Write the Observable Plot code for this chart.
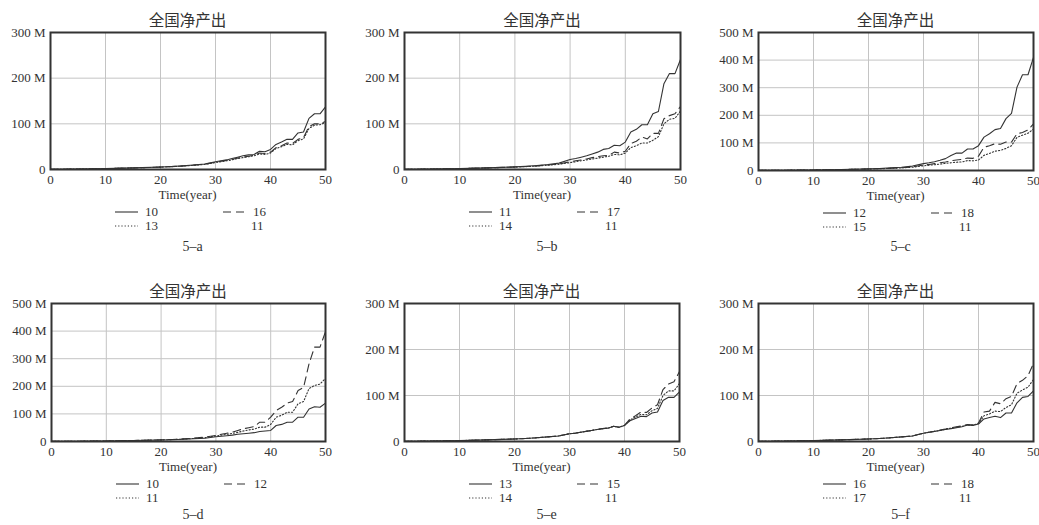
<!DOCTYPE html>
<html><head><meta charset="utf-8">
<script src="https://cdn.jsdelivr.net/npm/d3@7"></script>
<script src="https://cdn.jsdelivr.net/npm/@observablehq/plot@0.6"></script>
<style>
html,body{margin:0;padding:0;background:#fff;overflow:hidden;width:1039px;height:525px;}
#root{position:relative;width:1039px;height:525px;overflow:hidden;}
.abs{position:absolute;white-space:nowrap;}
.title{font-family:"Noto Sans CJK SC",sans-serif;font-size:15.5px;color:#333;transform:translate(-50%,-50%);}
.serif{font-family:"Liberation Serif","Times New Roman",serif;color:#333;}
.xlab{font-size:13px;transform:translate(-50%,-50%);}
.cap{font-size:14px;transform:translate(-50%,-50%);}
.leg{font-size:13px;transform:translateY(-50%);}
</style></head><body><div id="root"></div>
<script>
const years = [0,5,10,15,20,22,24,26,28,30,31,32,33,34,35,36,37,38,39,40,41,42,43,44,45,46,47,48,49,50];
const xTicks = [0,10,20,30,40,50];
const yTicks300 = [0,100,200,300];
const yTicks500 = [0,100,200,300,400,500];
const titleText = "全国净产出";
const xLabelText = "Time(year)";
const captions = ["5–a","5–b","5–c","5–d","5–e","5–f"];
const legendLabels = [
  ["10","16","13","11"],
  ["11","17","14","11"],
  ["12","18","15","11"],
  ["10","12","11"],
  ["13","15","14","11"],
  ["16","18","17","11"]
];
// values in millions (M)
const a10 = [0.3,1,2,3.5,5.5,6.5,8,10,12,17,19,21,24,27,30,32,33,40,39,44,55,60,66,66,80,82,112,122,122,137];
const a16 = [0.3,1,2,3.4,5.3,6.3,7.7,9.5,11.5,16,18,20,22,25,27,29,31,36,35,38,48,52,58,57,66,70,94,100,100,105];
const a13 = [0.3,1,2,3.3,5.2,6.2,7.5,9.2,11,15,17,19,21,24,26,28,30,34,33,36,46,50,55,54,63,67,90,97,98,103];
const b11 = [0.3,1,2,3.6,5.8,7,8.7,11,14,22,24,27,30,34,38,44,46,53,52,60,82,88,98,98,122,127,188,210,210,241];
const b17 = [0.3,1,2,3.5,5.5,6.5,8,10,12,17,19,21,23,26,28,30,31,38,36,40,57,62,71,67,79,79,111,118,122,138];
const b14 = [0.3,1,2,3.4,5.3,6.3,7.6,9.5,11.5,15,17,19,21,23,25,27,29,33,32,36,48,52,58,58,64,72,100,110,112,128];
const c12 = [0.3,1,2,3.8,6,7.5,9.5,12,16,25,28,32,37,43,54,63,63,78,78,90,121,133,148,152,188,207,302,347,347,410];
const c18 = [0.3,1,2,3.5,5.5,6.5,8,10,13,20,22,25,28,31,35,38,40,45,44,52,84,90,97,95,103,103,133,138,147,169];
const c15 = [0.3,1,2,3.4,5.3,6.3,7.6,9.5,12,17,19,21,23,26,28,30,31,36,35,38,55,62,70,73,80,90,120,128,135,150];
const d10 = [0.3,1,2,3.5,5.5,6.5,8,10,12,17,19,21,23,26,28,30,32,36,38,40,58,62,70,70,88,88,118,126,124,139];
const d12 = [0.3,1,2,3.8,6,7.5,9.5,12,16,22,26,30,34,40,46,50,54,70,70,88,112,124,139,145,185,196,282,342,342,398];
const d11 = [0.3,1,2,3.6,5.8,7,8.7,11,14,20,23,26,29,33,38,42,45,52,52,62,88,95,106,106,137,145,192,203,208,229];
const e13 = [0.3,1,2,3.5,5.5,6.5,8,10,12,17,18,20,22,24,26,28,29,33,31,35,45,50,55,54,62,64,89,96,96,108];
const e15 = [0.3,1,2,3.5,5.5,6.5,8,10,12,17,18,20,22,24,26,28,29,33,31,35,49,56,64,63,73,80,113,125,130,152];
const e14 = [0.3,1,2,3.5,5.5,6.5,8,10,12,17,18,20,22,24,26,28,29,33,31,35,47,53,59,58,67,72,100,110,110,126];
const f16 = [0.3,1,2,3.5,5.5,6.5,8,10,12,18,20,22,24,26,28,30,32,36,35,38,49,52,55,52,62,62,84,96,98,110];
const f18 = [0.3,1,2,3.5,5.5,6.5,8,10,12,18,20,22,25,27,30,32,34,37,36,40,64,66,85,82,93,98,126,133,143,170];
const f17 = [0.3,1,2,3.5,5.5,6.5,8,10,12,18,20,22,24,27,29,31,33,36,36,39,56,60,66,65,74,80,105,112,118,135];

const SOLID = null, DASH = "8,5", DOT = "1.2,2";
const panels = [
  {L:50,  T:32,  W:275, H:137, yTicks:yTicks300, series:[a10,a16,a13]},
  {L:404, T:32,  W:276, H:137, yTicks:yTicks300, series:[b11,b17,b14]},
  {L:758, T:32,  W:275, H:138, yTicks:yTicks500, series:[c12,c18,c15]},
  {L:51,  T:303, W:274, H:138, yTicks:yTicks500, series:[d10,d12,d11]},
  {L:404, T:303, W:275, H:138, yTicks:yTicks300, series:[e13,e15,e14]},
  {L:758, T:303, W:275, H:138, yTicks:yTicks300, series:[f16,f18,f17]}
];
const dashes = [SOLID, DASH, DOT];
const root = document.getElementById("root");
const ML = 50, MR = 12, MT = 10, MB = 22;

function addDiv(cls, text, x, y){
  const d = document.createElement("div");
  d.className = "abs " + cls;
  d.textContent = text;
  d.style.left = x + "px"; d.style.top = y + "px";
  root.appendChild(d);
  return d;
}
function addSwatch(x, y, dash){
  const svg = d3.create("svg").attr("width", 24).attr("height", 6)
    .style("position","absolute").style("left", x+"px").style("top", (y-3)+"px");
  svg.append("line").attr("x1",0).attr("x2",23).attr("y1",3).attr("y2",3)
    .attr("stroke","#333").attr("stroke-width",1.1)
    .attr("stroke-dasharray", dash);
  root.appendChild(svg.node());
}

panels.forEach((p, i) => {
  const ymax = p.yTicks[p.yTicks.length-1];
  const marks = [
    Plot.ruleX(xTicks, {x: d => d, stroke:"#c4c4c4", strokeWidth:1}),
    Plot.ruleY(p.yTicks, {y: d => d, stroke:"#c4c4c4", strokeWidth:1})
  ];
  p.series.forEach((vals, k) => {
    const data = years.map((t, j) => ({t, v: vals[j]}));
    marks.push(Plot.line(data, {x:"t", y:"v", stroke:"#333", strokeWidth:1.1, strokeDasharray: dashes[k]}));
  });
  marks.push(Plot.frame({stroke:"#333", strokeWidth:2}));
  const svg = Plot.plot({
    width: p.W + ML + MR, height: p.H + MT + MB,
    marginLeft: ML, marginRight: MR, marginTop: MT, marginBottom: MB,
    x: {domain:[0,50], ticks:xTicks, tickSize:0, tickPadding:5, label:null},
    y: {domain:[0,ymax], ticks:p.yTicks, tickSize:0, tickPadding:5, label:null,
        tickFormat: d => d === 0 ? "0" : d + " M"},
    style: {fontFamily:"'Liberation Serif','Times New Roman',serif", fontSize:"13px", color:"#333", background:"transparent", overflow:"visible"},
    marks
  });
  svg.style.position = "absolute";
  svg.style.left = (p.L - ML) + "px";
  svg.style.top = (p.T - MT) + "px";
  root.appendChild(svg);

  const cx = p.L + p.W/2;
  const bottom = p.T + p.H;
  addDiv("title", titleText, cx, p.T - 13.5);
  addDiv("serif xlab", xLabelText, cx, bottom + 26);
  // legend
  const labs = legendLabels[i];
  const slots = [[0,0],[1,0],[0,1],[1,1]];
  labs.forEach((lab, k) => {
    const [c, r] = slots[k];
    const y = bottom + 43 + r*14;
    const sx = p.L + (c === 0 ? 65 : 173);
    if (k < 3) addSwatch(sx, y, dashes[k]);
    addDiv("serif leg", lab, p.L + (c === 0 ? 95 : (k < 3 ? 203 : 201)), y);
  });
  addDiv("serif cap", captions[i], cx + 5, i < 3 ? 247 : 515);
});
</script></body></html>
